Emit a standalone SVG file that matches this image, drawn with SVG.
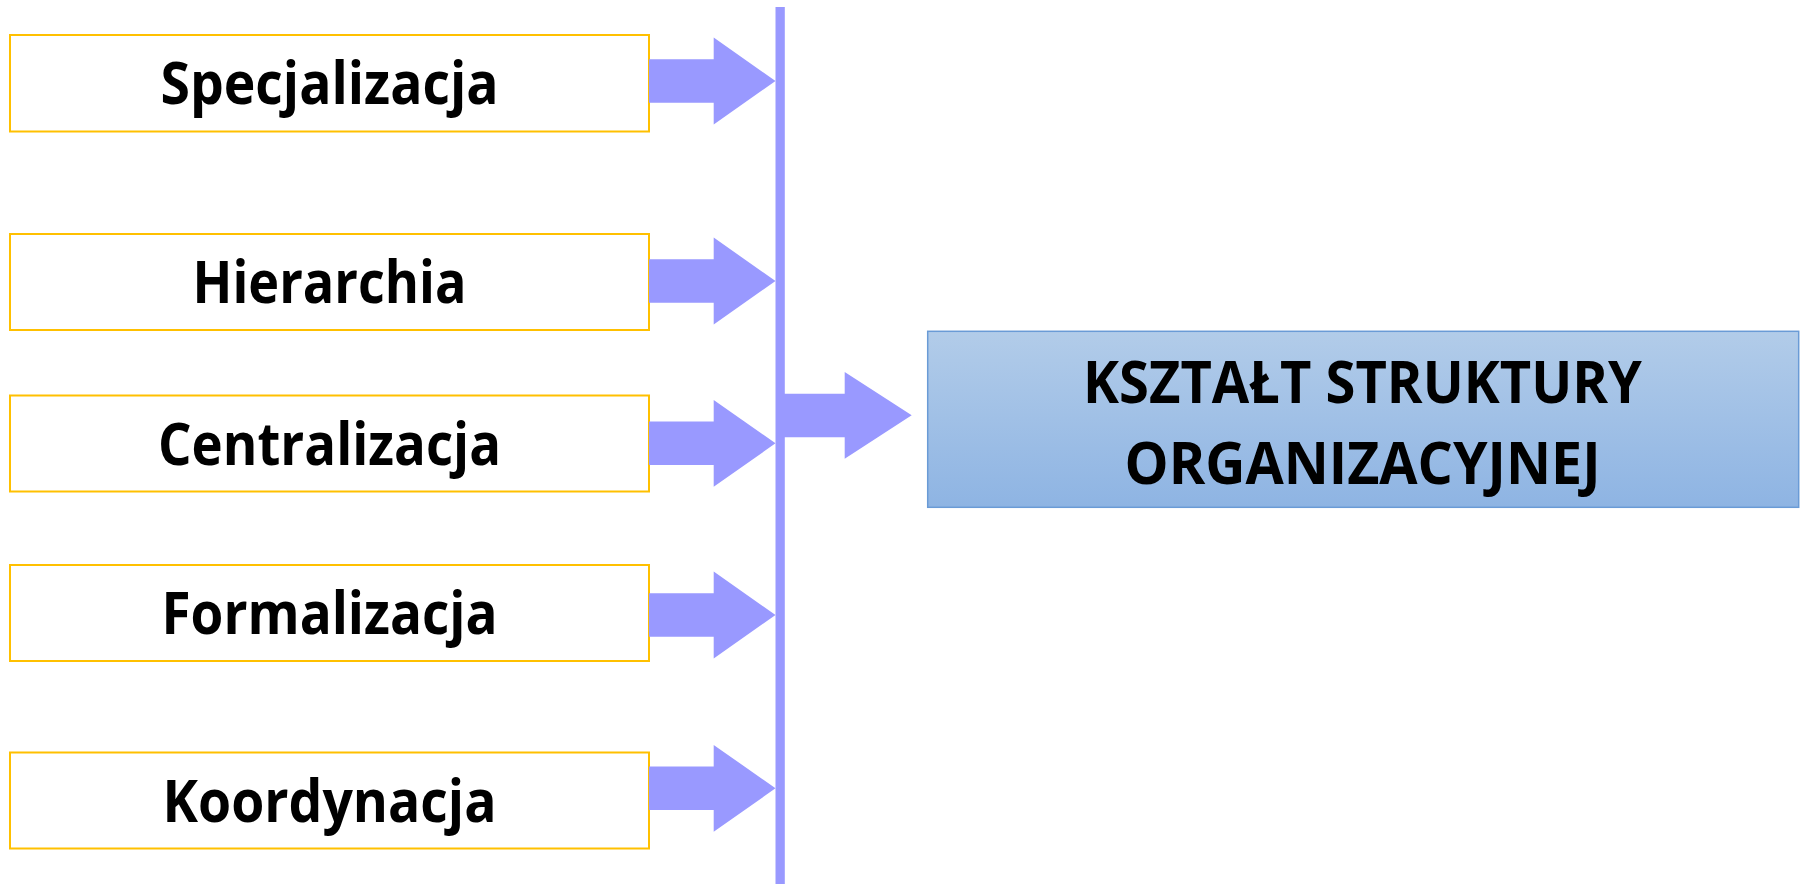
<svg xmlns="http://www.w3.org/2000/svg" width="1804" height="884" viewBox="0 0 1804 884">
  <style>
    .factor { fill: #FFFFFF; stroke: #FFC000; stroke-width: 2; }
    .label { font-family: "Open Sans", "Liberation Sans", sans-serif; font-weight: 700; font-size: 59px; fill: #000000; text-anchor: middle; }
    .flow { fill: #9999FF; }
    .result { fill: url(#resultFill); stroke: #6A9BD6; stroke-width: 1.5; }
  </style>
  <defs>
    <linearGradient id="resultFill" x1="0" y1="0" x2="0" y2="1">
      <stop offset="0" stop-color="#B2CCE9"/>
      <stop offset="1" stop-color="#8EB4E3"/>
    </linearGradient>
    <!-- block arrow from a factor box to the collector bar, centred on y=0 -->
    <path id="feedArrow" d="M649,-21.7 H713.7 V-43.4 L775.5,0 L713.7,43.4 V21.7 H649 Z"/>
  </defs>

  <rect width="1804" height="884" fill="#FFFFFF"/>

  <g id="factor-specjalizacja">
    <rect class="factor" x="10" y="35" width="639" height="96.5"/>
    <text class="label" x="329.5" y="104" textLength="338" lengthAdjust="spacingAndGlyphs">Specjalizacja</text>
  </g>
  <g id="factor-hierarchia">
    <rect class="factor" x="10" y="234" width="639" height="96"/>
    <text class="label" x="329.5" y="303" textLength="274" lengthAdjust="spacingAndGlyphs">Hierarchia</text>
  </g>
  <g id="factor-centralizacja">
    <rect class="factor" x="10" y="395.5" width="639" height="96"/>
    <text class="label" x="329.5" y="464.5" textLength="343" lengthAdjust="spacingAndGlyphs">Centralizacja</text>
  </g>
  <g id="factor-formalizacja">
    <rect class="factor" x="10" y="565" width="639" height="96"/>
    <text class="label" x="329.5" y="634" textLength="336" lengthAdjust="spacingAndGlyphs">Formalizacja</text>
  </g>
  <g id="factor-koordynacja">
    <rect class="factor" x="10" y="752.5" width="639" height="96"/>
    <text class="label" x="329.5" y="821.5" textLength="334" lengthAdjust="spacingAndGlyphs">Koordynacja</text>
  </g>

  <g id="connectors" class="flow">
    <rect x="775.5" y="7" width="9.3" height="877"/>
    <use href="#feedArrow" transform="translate(0,81)"/>
    <use href="#feedArrow" transform="translate(0,281)"/>
    <use href="#feedArrow" transform="translate(0,443.3)"/>
    <use href="#feedArrow" transform="translate(0,615)"/>
    <use href="#feedArrow" transform="translate(0,788.3)"/>
    <path d="M782,393.7 H844.7 V372 L911.7,415.3 L844.7,458.7 V437.3 H782 Z"/>
  </g>

  <g id="result-ksztalt">
    <rect class="result" x="927.7" y="331.3" width="871" height="176"/>
    <text class="label" x="1362.5" y="402.7" textLength="559" lengthAdjust="spacingAndGlyphs">KSZTAŁT STRUKTURY</text>
    <text class="label" x="1362.5" y="484.4" textLength="476" lengthAdjust="spacingAndGlyphs">ORGANIZACYJNEJ</text>
  </g>
</svg>
